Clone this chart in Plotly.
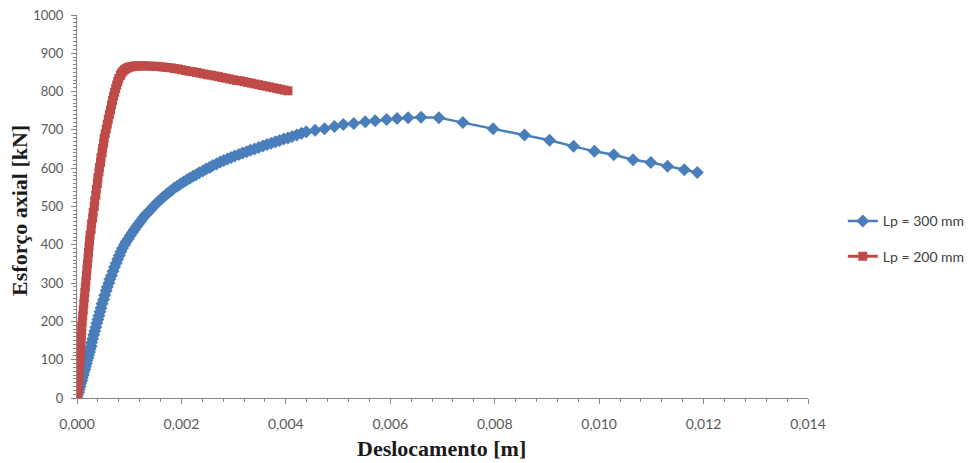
import plotly.graph_objects as go

# Lp = 300 mm (blue)
x_lp300 = [0.00000, 0.00001, 0.00003, 0.00004, 0.00006, 0.00007, 0.00009, 0.00010, 0.00012, 0.00013,
           0.00015, 0.00016, 0.00018, 0.00019, 0.00021, 0.00022, 0.00024, 0.00025, 0.00027, 0.00028,
           0.00030, 0.00032, 0.00034, 0.00036, 0.00038, 0.00040, 0.00042, 0.00044, 0.00046, 0.00048,
           0.00051, 0.00053, 0.00056, 0.00058, 0.00061, 0.00063, 0.00066, 0.00069, 0.00072, 0.00075,
           0.00078, 0.00081, 0.00084, 0.00087, 0.00091, 0.00094, 0.00098, 0.00102, 0.00106, 0.00110,
           0.00114, 0.00118, 0.00122, 0.00126, 0.00131, 0.00135, 0.00140, 0.00145, 0.00150, 0.00155,
           0.00160, 0.00165, 0.00170, 0.00175, 0.00181, 0.00186, 0.00192, 0.00198, 0.00204, 0.00210,
           0.00216, 0.00222, 0.00228, 0.00234, 0.00241, 0.00247, 0.00254, 0.00260, 0.00267, 0.00274,
           0.00281, 0.00288, 0.00295, 0.00302, 0.00310, 0.00317, 0.00325, 0.00332, 0.00340, 0.00348,
           0.00356, 0.00364, 0.00372, 0.00380, 0.00388, 0.00396, 0.00404, 0.00412, 0.00421, 0.00430,
           0.00439, 0.00456, 0.00474, 0.00493, 0.00510, 0.00530, 0.00552, 0.00571, 0.00593, 0.00613,
           0.00634, 0.00659, 0.00693, 0.00739, 0.00797, 0.00857, 0.00905, 0.00951, 0.00991, 0.01028,
           0.01065, 0.01099, 0.01131, 0.01163, 0.01188]
y_lp300 = [0, 8, 15, 22, 30, 38, 45, 52, 60, 68,
           75, 82, 90, 98, 105, 112, 120, 128, 135, 145,
           155, 165, 175, 185, 195, 205, 215, 225, 235, 246,
           257, 268, 280, 290, 300, 310, 320, 331, 342, 352,
           362, 372, 382, 391, 400, 408, 415, 424, 432, 440,
           448, 455, 462, 470, 478, 484, 490, 498, 505, 512,
           518, 524, 530, 536, 542, 548, 553, 559, 564, 569,
           574, 579, 583, 588, 593, 598, 602, 607, 611, 616,
           620, 624, 628, 632, 636, 640, 643, 647, 650, 654,
           658, 662, 665, 669, 672, 676, 679, 683, 687, 691,
           695, 699, 703, 709, 714, 717, 721, 724, 727, 730,
           732, 733, 732, 719, 703, 687, 673, 657, 644, 635,
           622, 615, 605, 596, 589]

# Lp = 200 mm (red)
x_lp200 = [0.00000, 0.00001, 0.00002, 0.00002, 0.00003, 0.00003, 0.00004, 0.00004, 0.00005, 0.00005,
           0.00006, 0.00006, 0.00007, 0.00007, 0.00008, 0.00008, 0.00009, 0.00009, 0.00010, 0.00011,
           0.00012, 0.00013, 0.00014, 0.00015, 0.00016, 0.00017, 0.00018, 0.00019, 0.00020, 0.00021,
           0.00022, 0.00023, 0.00024, 0.00025, 0.00027, 0.00028, 0.00030, 0.00031, 0.00033, 0.00034,
           0.00036, 0.00037, 0.00039, 0.00040, 0.00042, 0.00043, 0.00045, 0.00046, 0.00048, 0.00049,
           0.00051, 0.00052, 0.00054, 0.00056, 0.00058, 0.00060, 0.00062, 0.00064, 0.00066, 0.00068,
           0.00070, 0.00072, 0.00074, 0.00076, 0.00078, 0.00080, 0.00083, 0.00085, 0.00088, 0.00091,
           0.00094, 0.00097, 0.00100, 0.00104, 0.00107, 0.00111, 0.00115, 0.00120, 0.00124, 0.00131,
           0.00138, 0.00145, 0.00152, 0.00159, 0.00166, 0.00173, 0.00180, 0.00187, 0.00194, 0.00201,
           0.00208, 0.00215, 0.00222, 0.00229, 0.00236, 0.00243, 0.00250, 0.00257, 0.00264, 0.00271,
           0.00278, 0.00285, 0.00292, 0.00299, 0.00306, 0.00313, 0.00320, 0.00327, 0.00334, 0.00341,
           0.00348, 0.00355, 0.00362, 0.00369, 0.00376, 0.00383, 0.00390, 0.00397, 0.00404]
y_lp200 = [0, 10, 20, 30, 40, 50, 60, 70, 80, 90,
           100, 112, 125, 138, 150, 162, 175, 188, 200, 215,
           230, 246, 262, 276, 290, 305, 320, 335, 350, 365,
           380, 395, 410, 425, 440, 455, 470, 485, 500, 515,
           530, 545, 560, 575, 590, 602, 615, 628, 640, 652,
           665, 678, 690, 702, 715, 728, 740, 752, 765, 777,
           788, 798, 808, 817, 826, 834, 842, 848, 853, 857,
           860, 862, 864, 865, 866, 867, 867, 867, 867, 867,
           867, 866, 866, 865, 864, 863, 862, 860, 859, 857,
           855, 853, 852, 850, 848, 846, 844, 843, 841, 839,
           837, 835, 833, 831, 829, 828, 826, 824, 822, 820,
           818, 816, 814, 812, 810, 808, 806, 804, 802]

x_title = "Deslocamento [m]"
y_title = "Esforço axial [kN]"
name_300 = "Lp = 300 mm"
name_200 = "Lp = 200 mm"

BLUE = "#4A7EBB"
RED = "#BE4B48"
AXIS = "#868686"
XTICKFONT = dict(family="Lato", size=14, color="#595959")
YTICKFONT = dict(family="Lato", size=13, color="#595959")

fig = go.Figure()
fig.add_trace(go.Scatter(x=x_lp300, y=y_lp300, name=name_300, mode="lines+markers",
                         line=dict(color=BLUE, width=2.5),
                         marker=dict(symbol="diamond", size=10, color=BLUE),
                         legendgroup="a"))
fig.add_trace(go.Scatter(x=x_lp200, y=y_lp200, name=name_200, mode="lines+markers",
                         line=dict(color=RED, width=3),
                         marker=dict(symbol="square", size=9, color=RED),
                         legendgroup="b"))

fig.update_layout(
    width=971, height=463,
    margin=dict(l=77, r=163, t=15, b=65, autoexpand=False),
    paper_bgcolor="white", plot_bgcolor="white",
    separators=",.",
    showlegend=True,
    legend=dict(xref="container", yref="container", x=0.868, y=0.484, xanchor="left", yanchor="middle",
                font=dict(family="Lato", size=14, color="#404040"),
                traceorder="grouped", tracegroupgap=14, bgcolor="rgba(0,0,0,0)"),
    xaxis=dict(range=[0, 0.014], dtick=0.002, tickformat=".3f", showgrid=False, zeroline=False,
               automargin=False,
               showline=True, linecolor=AXIS, linewidth=1, ticklabelstandoff=8,
               ticks="outside", ticklen=5, tickcolor=AXIS, tickfont=XTICKFONT,
               minor=dict(dtick=0.0004, ticks="outside", ticklen=3, tickcolor=AXIS, showgrid=False)),
    yaxis=dict(range=[0, 1000], dtick=100, showgrid=False, zeroline=False,
               automargin=False,
               showline=True, linecolor=AXIS, linewidth=1, ticklabelstandoff=5,
               ticks="outside", ticklen=5, tickcolor=AXIS, tickfont=YTICKFONT,
               minor=dict(dtick=10, ticks="outside", ticklen=3, tickcolor=AXIS, showgrid=False)),
    xaxis2=dict(range=[0, 0.014], dtick=0.002, overlaying="x", anchor="y", side="bottom",
                automargin=False,
                showticklabels=False, showgrid=False, zeroline=False, showline=False,
                ticks="inside", ticklen=5, tickcolor=AXIS,
                minor=dict(dtick=0.0004, ticks="inside", ticklen=3, tickcolor=AXIS, showgrid=False)),
    yaxis2=dict(range=[0, 1000], dtick=100, overlaying="y", anchor="x", side="left",
                automargin=False,
                showticklabels=False, showgrid=False, zeroline=False, showline=False,
                ticks="inside", ticklen=5, tickcolor=AXIS,
                minor=dict(dtick=10, ticks="inside", ticklen=3, tickcolor=AXIS, showgrid=False)),
)

fig.add_annotation(text="<b>" + x_title + "</b>", xref="paper", yref="paper", x=0.498, y=-0.133,
                   xanchor="center", yanchor="middle", showarrow=False,
                   font=dict(family="Liberation Serif", size=22, color="#1a1a1a"))
fig.add_annotation(text="<b>" + y_title + "</b>", xref="paper", yref="paper", x=-0.078, y=0.491,
                   xanchor="center", yanchor="middle", showarrow=False, textangle=-90,
                   font=dict(family="Liberation Serif", size=22, color="#1a1a1a"))

fig.write_html("out.html", config={"displayModeBar": False},
               post_script="document.body.style.margin='0';document.body.style.overflow='hidden';")
